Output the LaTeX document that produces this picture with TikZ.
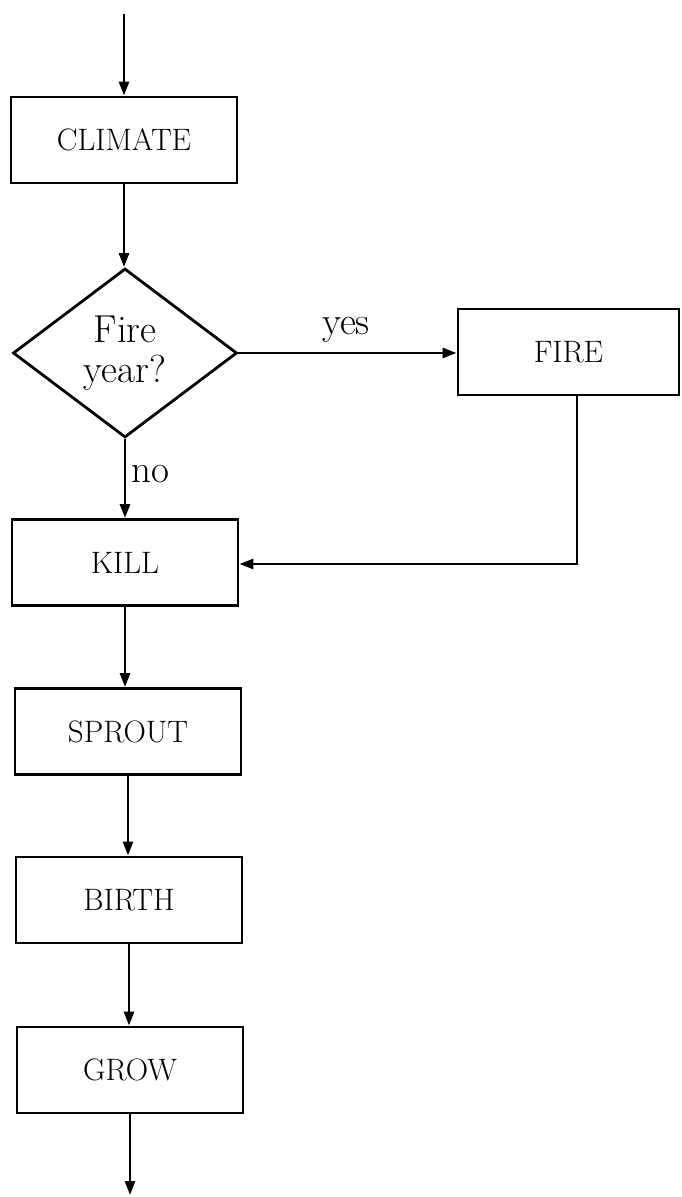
\documentclass[tikz,border=0pt]{standalone}
\usetikzlibrary{arrows.meta,shapes.geometric}
\begin{document}
\begin{tikzpicture}[x=0.5pt,y=-0.5pt,
  line width=1.4pt,
  >={Triangle[length=7pt,width=5pt]},
  procbox/.style={draw,rectangle,minimum width=113pt,minimum height=43pt,inner sep=0pt,
    font=\fontsize{15.5}{18}\selectfont},
  decide/.style={draw,diamond,minimum width=112pt,minimum height=84.5pt,inner sep=0pt,
    align=center,font=\fontsize{19.5}{20}\selectfont},
  lbl/.style={font=\fontsize{19.5}{20}\selectfont,inner sep=0pt}]
\useasboundingbox (0,0) rectangle (681,1197);
\coordinate (start) at (124,14);
\node[procbox] (climate) at (124,140) {CLIMATE};
\node[decide] (fy) at (125,353) {Fire\\year?};
\node[procbox,minimum width=110.5pt] (fire) at (568.5,352) {FIRE};
\node[procbox] (kill) at (125,562.5) {KILL};
\node[procbox] (sprout) at (128,731.5) {SPROUT};
\node[procbox] (birth) at (129,900) {BIRTH};
\node[procbox] (grow) at (130,1070) {GROW};
\coordinate (end) at (130,1195);
\coordinate (corner) at (577,564);

\draw[->] (start) -- (start |- climate.north);
\draw[->] (climate.south) -- (climate.south |- fy.north);
\draw[->] (fy.east) -- (fy.east -| fire.west);
\draw[->] (fy.south) -- (fy.south |- kill.north);
\draw[->] (fire.south -| corner) -- (corner) -- (corner -| kill.east);
\draw[->] (kill.south) -- (kill.south |- sprout.north);
\draw[->] (sprout.south) -- (sprout.south |- birth.north);
\draw[->] (birth.south) -- (birth.south |- grow.north);
\draw[->] (grow.south) -- (end);

\node[lbl] (yes) at (346,330) {yes};
\node[lbl,anchor=west] (no) at (130,474) {no};
\end{tikzpicture}
\end{document}
